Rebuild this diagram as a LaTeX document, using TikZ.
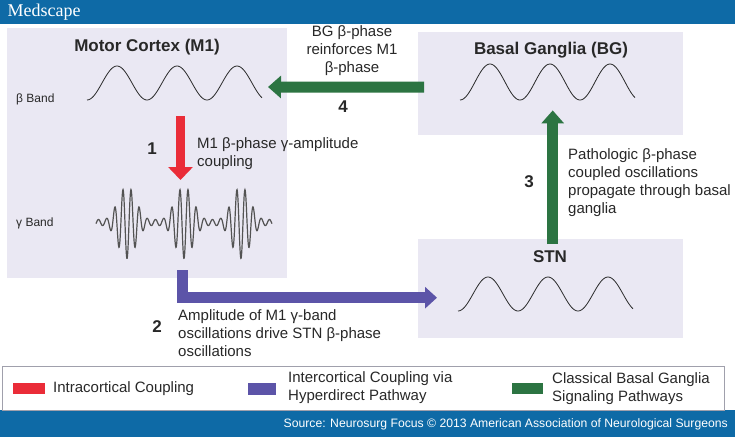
\documentclass[tikz,border=0pt]{standalone}
\usepackage{fontspec}
\setmainfont{Liberation Sans}
\newfontfamily\logofont{Liberation Serif}
\usetikzlibrary{arrows.meta,positioning,calc}

\definecolor{barblue}{RGB}{14,106,166}
\definecolor{boxfill}{RGB}{234,232,243}
\definecolor{intrared}{RGB}{234,44,56}
\definecolor{hyperpurple}{RGB}{92,84,168}
\definecolor{bggreen}{RGB}{44,116,66}
\definecolor{txt}{RGB}{40,40,40}
\definecolor{legendline}{RGB}{160,160,172}

\begin{document}
\begin{tikzpicture}[x=1pt,y=-1pt,
  region/.style={fill=boxfill, anchor=north west, inner sep=0pt},
  title/.style={font=\fontsize{17}{20}\selectfont\bfseries, text=txt},
  num/.style={font=\fontsize{17}{20}\selectfont\bfseries, text=txt},
  note/.style={font=\fontsize{15}{18}\selectfont, text=txt, align=left, anchor=west, inner sep=0pt},
  band/.style={font=\fontsize{12}{14}\selectfont, text=txt, anchor=west, inner sep=0pt},
  wave/.style={draw=txt, line width=0.8pt},
  intra/.style={draw=intrared, line width=9pt, -{Triangle[width=24pt,length=13pt]}},
  hyper/.style={draw=hyperpurple, line width=11pt, -{Triangle[width=21pt,length=12pt]}},
  classic/.style={draw=bggreen, line width=11pt, -{Triangle[width=22pt,length=13pt]}},
]
  \useasboundingbox (0,0) rectangle (735,437);
  \fill[white] (0,0) rectangle (735,437);

  % header and footer bars
  \fill[barblue] (0,0) rectangle (735,24);
  \node[anchor=west, text=white, font=\logofont\fontsize{18}{20}\selectfont] (logo) at (4,12) {Medscape};
  \fill[barblue] (0,410) rectangle (735,437);
  \node[anchor=east, text=white, font=\fontsize{12.2}{14}\selectfont, inner sep=0pt] (source) at (728,424)
    {Source: Neurosurg Focus © 2013 American Association of Neurological Surgeons};

  % regions
  \node[region, minimum width=280pt, minimum height=250pt] (m1) at (7,28) {};
  \node[region, minimum width=265pt, minimum height=103pt] (bg) at (418,32) {};
  \node[region, minimum width=265pt, minimum height=99pt] (stn) at (418,239) {};
  \node[title] (m1title) at (147,47) {Motor Cortex (M1)};
  \node[title] (bgtitle) at (551,50) {Basal Ganglia (BG)};
  \node[title] (stntitle) at (550,257) {STN};

  % oscillations
  \node[band] (betalbl) at (16,99) {β Band};
  \node[band] (gammalbl) at (16,223) {γ Band};
  \draw[wave] plot[domain=87:262, samples=120, smooth] (\x, {83-17*sin(6*(\x-102))});
  \draw[wave, draw=txt!80, line width=1.2pt] plot[domain=96:272, samples=600]
    (\x, {222.5+(3+33*((1+cos(6.3158*(\x-127)))/2)^2)*cos(44.226*(\x-127))});
  \draw[wave] plot[domain=460:635, samples=120, smooth] (\x, {82-18*sin(6*(\x-475))});
  \draw[wave] plot[domain=458:633, samples=120, smooth] (\x, {294-17*sin(6*(\x-473))});

  % pathways
  \coordinate (betawave) at (180.5,116);
  \coordinate (gammawave) at (180.5,180);
  \coordinate (m1beta) at (268,87);
  \draw[intra] (betawave) -- (gammawave);
  \draw[hyper] ($(m1.south)+(35,-8)$) |- ($(stn.west)+(19,9)$);
  \draw[classic] ($(stn.north)+(2,5)$) -- ($(bg.south)+(2,-25)$);
  \draw[classic] ($(bg.west)+(6,3.5)$) -- (m1beta);

  \node[num] (n1) at (152,149) {1};
  \node[note] (t1) at (197,154) {M1 β-phase γ-amplitude\\coupling};
  \node[num] (n2) at (157,327) {2};
  \node[note] (t2) at (178,333) {Amplitude of M1 γ-band\\oscillations drive STN β-phase\\oscillations};
  \node[num] (n3) at (529,182) {3};
  \node[note] (t3) at (568,183) {Pathologic β-phase\\coupled oscillations\\propagate through basal\\ganglia};
  \node[num] (n4) at (343,107) {4};
  \node[note, align=center, anchor=center] (t4) at (352,51) {BG β-phase\\reinforces M1\\β-phase};

  % legend
  \node[draw=legendline, line width=0.8pt, fill=white, anchor=north west, inner sep=0pt,
    minimum width=722pt, minimum height=44pt] (legend) at (2,366) {};
  \fill[intrared] (13,383) rectangle (45,394);
  \node[note] (leg1) at (53,389) {Intracortical Coupling};
  \fill[hyperpurple] (248,383) rectangle (276,395);
  \node[note] (leg2) at (288,388) {Intercortical Coupling via\\Hyperdirect Pathway};
  \fill[bggreen] (512,383) rectangle (543,394);
  \node[note] (leg3) at (552,389) {Classical Basal Ganglia\\Signaling Pathways};
\end{tikzpicture}
\end{document}
